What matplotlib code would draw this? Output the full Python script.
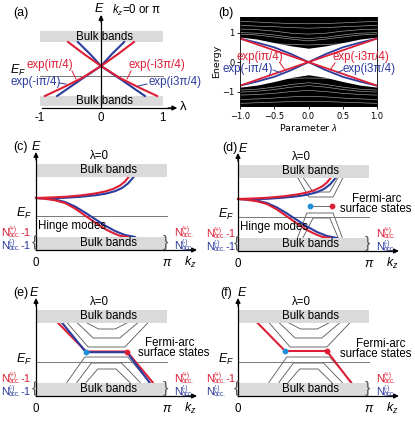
import matplotlib
matplotlib.use('Agg')
import matplotlib.pyplot as plt
from matplotlib.patches import Rectangle
import numpy as np

plt.rcParams['font.family'] = ['Liberation Sans', 'DejaVu Sans']
plt.rcParams['mathtext.fontset'] = 'custom'
plt.rcParams['mathtext.rm'] = 'Liberation Sans'
plt.rcParams['mathtext.it'] = 'Liberation Sans:italic'
plt.rcParams['mathtext.bf'] = 'Liberation Sans:bold'

RED = '#dc1f35'
BLUE = '#2b3c9f'
DOT_BLUE = '#1f8fd8'
FILL = '#dadada'
GLINE = '#555555'

W, H = 415, 443

# ---------------- data ----------------
# panel (a): schematic edge states vs lambda (E in schematic units)
a_lam_ticks = [-1, 0, 1]
a_red1_lam = [-0.54, -0.28, 0.0, 0.31, 0.64, 0.92]
a_red1_E = [6.6, 5.4, 4.2, 3.0, 2.0, 1.2]
a_red2_lam = [0.54, 0.28, 0.0, -0.31, -0.64, -0.92]
a_red2_E = [6.6, 5.4, 4.2, 3.0, 2.0, 1.2]
a_blue1_lam = [-0.38, -0.18, 0.0, 0.34, 0.72]
a_blue1_E = [6.6, 5.4, 4.2, 2.8, 1.2]
a_blue2_lam = [0.38, 0.18, 0.0, -0.34, -0.72]
a_blue2_E = [6.6, 5.4, 4.2, 2.8, 1.2]
a_bulk_top = (6.6, 7.7)
a_bulk_bot = (0.2, 1.2)
a_EF = 3.2

# panel (b): numerical spectrum vs lambda
b_lam = [-1.0, -0.75, -0.5, -0.25, 0.0, 0.25, 0.5, 0.75, 1.0]
b_upper_edge = [0.85, 0.78, 0.66, 0.55, 0.47, 0.55, 0.66, 0.78, 0.85]
b_lower_edge = [-0.85, -0.78, -0.66, -0.52, -0.43, -0.52, -0.66, -0.78, -0.85]
b_upper_streaks = [
    [0.95, 0.92, 0.85, 0.78, 0.72, 0.78, 0.85, 0.92, 0.95],
    [1.00, 0.98, 0.92, 0.84, 0.80, 0.84, 0.92, 0.98, 1.00],
    [1.12, 1.10, 1.05, 0.98, 0.95, 0.98, 1.05, 1.10, 1.12],
    [1.25, 1.22, 1.20, 1.17, 1.15, 1.17, 1.20, 1.22, 1.25],
    [1.38, 1.36, 1.33, 1.31, 1.30, 1.31, 1.33, 1.36, 1.38],
    [0.68, 0.66, 0.62, 0.60, 0.58, 0.60, 0.62, 0.66, 0.68],
]
b_lower_streaks = [
    [-0.95, -0.92, -0.85, -0.76, -0.70, -0.76, -0.85, -0.92, -0.95],
    [-1.02, -0.99, -0.93, -0.85, -0.80, -0.85, -0.93, -0.99, -1.02],
    [-1.12, -1.10, -1.06, -1.00, -0.96, -1.00, -1.06, -1.10, -1.12],
    [-1.27, -1.25, -1.22, -1.18, -1.16, -1.18, -1.22, -1.25, -1.27],
    [-1.40, -1.38, -1.36, -1.34, -1.33, -1.34, -1.36, -1.38, -1.40],
    [-0.62, -0.60, -0.57, -0.55, -0.54, -0.55, -0.57, -0.60, -0.62],
]
b_red1_lam = [-1.0, 1.0]
b_red1_E = [0.80, -0.80]
b_red2_lam = [-1.0, 1.0]
b_red2_E = [-0.80, 0.80]
b_blue_lam = [-1.0, -0.75, -0.5, -0.25, 0.0, 0.25, 0.5, 0.75, 1.0]
b_blue1_E = [0.80, 0.66, 0.50, 0.27, 0.0, -0.27, -0.50, -0.66, -0.80]
b_blue2_E = [-0.80, -0.66, -0.50, -0.27, 0.0, 0.27, 0.50, 0.66, 0.80]
b_xticks = [-1.0, -0.5, 0.0, 0.5, 1.0]
b_yticks = [-1, 0, 1]

# panels (c)-(f): schematic kz spectra (E in schematic units)
bulk_top = (7.35, 8.65)
bulk_bot = (0.0, 1.35)
EF = 3.45
hinge_red_up_kz = [0, 0.336, 0.695, 1.055, 1.415, 1.655, 1.847, 2.014, 2.134, 2.23]
hinge_red_up_E = [5.2, 5.25, 5.32, 5.45, 5.65, 5.85, 6.1, 6.45, 6.85, 7.35]
hinge_blue_up_kz = [0, 0.336, 0.695, 1.055, 1.415, 1.655, 1.894, 2.062, 2.206, 2.35]
hinge_blue_up_E = [5.2, 5.18, 5.22, 5.32, 5.47, 5.62, 5.88, 6.2, 6.65, 7.35]
hinge_red_lo_kz = [0, 0.216, 0.456, 0.695, 0.935, 1.175, 1.415, 1.655, 1.847, 2.014, 2.206]
hinge_red_lo_E = [5.2, 5.12, 4.97, 4.7, 4.15, 3.45, 2.75, 2.1, 1.7, 1.42, 1.3]
hinge_blue_lo_kz = [0, 0.216, 0.456, 0.695, 0.935, 1.175, 1.415, 1.655, 1.894, 2.134, 2.374]
hinge_blue_lo_E = [5.2, 5.15, 5.05, 4.8, 4.35, 3.75, 3.1, 2.45, 1.9, 1.5, 1.3]

# (d) Fermi arc and projected bulk bands
d_arc_kz = [1.73, 2.25]
d_arc_E = [4.5, 4.5]
d_upper_shapes = [
    ([1.43, 1.70, 2.28, 2.52], [7.35, 5.4, 5.4, 7.35]),
    ([1.56, 1.80, 2.2, 2.40], [7.35, 5.9, 5.9, 7.35]),
]
d_lower_shapes = [
    ([1.43, 1.65, 2.28, 2.50], [1.35, 3.8, 3.8, 1.35]),
    ([1.56, 1.80, 2.2, 2.40], [1.35, 3.3, 3.3, 1.35]),
]

# (e)
e_red_kz = [0.52, 1.20, 2.18, 2.80]
e_red_E = [7.35, 4.45, 4.45, 1.35]
e_blue_kz = [0.62, 1.20, 2.18, 2.72]
e_blue_E = [7.35, 4.38, 4.38, 1.35]
e_dot_kz = [1.20, 2.18]
e_dot_E = [4.4, 4.4]
ef_upper_shapes = [
    ([0.74, 1.25, 2.13, 2.69], [7.35, 4.9, 4.9, 7.35]),
    ([0.98, 1.37, 2.01, 2.45], [7.35, 5.8, 5.8, 7.35]),
    ([1.20, 1.50, 1.90, 2.20], [7.35, 6.7, 6.7, 7.35]),
]
ef_lower_shapes = [
    ([0.74, 1.17, 2.2, 2.73], [1.35, 3.9, 3.9, 1.35]),
    ([0.98, 1.33, 2.05, 2.50], [1.35, 3.3, 3.3, 1.35]),
    ([1.20, 1.48, 1.92, 2.25], [1.35, 2.7, 2.7, 1.35]),
]
# (f)
f_red_kz = [0.46, 1.13, 2.13, 2.71]
f_red_E = [7.35, 4.5, 4.5, 1.35]
f_dot_kz = [1.13, 2.13]
f_dot_E = [4.5, 4.5]

# ---------------- figure ----------------
fig = plt.figure(figsize=(W / 100, H / 100), dpi=100)


def make_axes(px_l, px_t, px_r, px_b, x0px, xs, y0px, ys):
    ax = fig.add_axes([px_l / W, 1 - px_b / H, (px_r - px_l) / W, (px_b - px_t) / H])
    ax.set_xlim((px_l - x0px) / xs, (px_r - x0px) / xs)
    ax.set_ylim((y0px - px_b) / ys, (y0px - px_t) / ys)
    ax.axis('off')
    return ax


def ftext(x, y, s, **kw):
    fig.text(x / W, 1 - y / H, s, **kw)


def fline(xs, ys, color):
    fig.add_artist(plt.Line2D([x / W for x in xs], [1 - y / H for y in ys],
                              color=color, lw=0.7, transform=fig.transFigure))


def arrow(ax, p0, p1):
    ax.annotate('', xy=p1, xytext=p0,
                arrowprops=dict(arrowstyle='-|>', lw=0.9, color='k',
                                mutation_scale=7, shrinkA=0, shrinkB=0),
                annotation_clip=False)


def nlabel(x, y, sign, suffix, color):
    ftext(x, y, 'N', ha='left', va='center', fontsize=8, color=color)
    ftext(x + 7.7, y - 3.1, '(%s)' % sign, ha='left', va='center', fontsize=4.7, color=color)
    ftext(x + 7.7, y + 2.7, 'occ.', ha='left', va='center', fontsize=4.7, color=color)
    if suffix:
        ftext(x + 19.0, y, suffix, ha='left', va='center', fontsize=8, color=color)


FS = 8.3

# ---- panel (a)
axa = make_axes(0, 0, 205, 140, 101, 61, 108, 10)
axa.add_patch(Rectangle((-1, a_bulk_top[0]), 2.02, a_bulk_top[1] - a_bulk_top[0], fc=FILL, ec='none'))
axa.add_patch(Rectangle((-1, a_bulk_bot[0]), 2.02, a_bulk_bot[1] - a_bulk_bot[0], fc=FILL, ec='none'))
axa.plot([-1.0, 1.02], [a_EF, a_EF], color='#777777', lw=0.7)
axa.text(0.05, np.mean(a_bulk_top), 'Bulk bands', ha='center', va='center', fontsize=FS)
axa.text(0.05, np.mean(a_bulk_bot), 'Bulk bands', ha='center', va='center', fontsize=FS)
axa.plot(a_blue1_lam, a_blue1_E, color=BLUE, lw=1.5)
axa.plot(a_blue2_lam, a_blue2_E, color=BLUE, lw=1.5)
axa.plot(a_red1_lam, a_red1_E, color=RED, lw=1.5)
axa.plot(a_red2_lam, a_red2_E, color=RED, lw=1.5)
axa.plot([0, 0], [0, 9.2], color='k', lw=0.9)
arrow(axa, (0, 8.6), (0, 9.3))
axa.plot([-0.97, 1.15], [0, 0], color='k', lw=0.9)
arrow(axa, (1.1, 0), (1.25, 0))
for t in a_lam_ticks:
    axa.text(t, -1.0, '%d' % t, ha='center', va='center', fontsize=FS)
ftext(183, 107, 'λ', ha='center', va='center', fontsize=9.5)
ftext(99, 8, '$E$', ha='center', va='center', fontsize=9)
ftext(112, 10, '$k_z$=0 or π', ha='left', va='center', fontsize=FS)
ftext(10, 70, '$E_F$', ha='left', va='center', fontsize=9)
ftext(13, 13, '(a)', ha='left', va='center', fontsize=9)
ftext(50, 65, 'exp(iπ/4)', ha='center', va='center', fontsize=FS, color=RED)
ftext(36, 82, 'exp(-iπ/4)', ha='center', va='center', fontsize=FS, color=BLUE)
ftext(157, 65, 'exp(-i3π/4)', ha='center', va='center', fontsize=FS, color=RED)
ftext(175, 82, 'exp(i3π/4)', ha='center', va='center', fontsize=FS, color=BLUE)
fline([72, 76], [71, 79], RED)
fline([59, 66], [83, 84], BLUE)
fline([131, 127], [71, 79], RED)
fline([147, 138], [84, 86], BLUE)

# ---- panel (b)
axb = fig.add_axes([240 / W, 1 - 106 / H, 137 / W, 89 / H])
axb.set_xlim(-1, 1)
axb.set_ylim(-1.49, 1.53)
axb.fill_between(b_lam, b_upper_edge, 1.6, color='k', lw=0)
axb.fill_between(b_lam, -1.6, b_lower_edge, color='k', lw=0)
for s in b_upper_streaks + b_lower_streaks:
    axb.plot(b_lam, s, color='white', lw=0.45, alpha=0.65)
axb.plot(b_blue_lam, b_blue1_E, color=BLUE, lw=1.3)
axb.plot(b_blue_lam, b_blue2_E, color=BLUE, lw=1.3)
axb.plot(b_red1_lam, b_red1_E, color=RED, lw=1.3)
axb.plot(b_red2_lam, b_red2_E, color=RED, lw=1.3)
axb.set_xticks(b_xticks)
axb.set_yticks(b_yticks)
axb.tick_params(labelsize=6, length=2.5, width=0.6, pad=1.5)
for t in axb.get_xticklabels() + axb.get_yticklabels():
    t.set_fontfamily('DejaVu Sans')
for sp in axb.spines.values():
    sp.set_linewidth(0.6)
axb.set_xlabel('Parameter $\\lambda$', fontsize=6.8, labelpad=1, fontfamily='DejaVu Sans')
axb.set_ylabel('Energy', fontsize=6.8, labelpad=1, fontfamily='DejaVu Sans')
ftext(218, 13, '(b)', ha='left', va='center', fontsize=9)
ftext(260, 57, 'exp(iπ/4)', ha='center', va='center', fontsize=FS, color=RED)
ftext(248, 69, 'exp(-iπ/4)', ha='center', va='center', fontsize=FS, color=BLUE)
ftext(361, 57, 'exp(-i3π/4)', ha='center', va='center', fontsize=FS, color=RED)
ftext(369, 69, 'exp(i3π/4)', ha='center', va='center', fontsize=FS, color=BLUE)
fline([280, 285], [63, 70], RED)
fline([273, 281], [70, 73], BLUE)
fline([335, 330], [63, 70], RED)
fline([343, 337], [70, 73], BLUE)

# ---- panels (c)-(f)
KS = 131 / np.pi


def kz_panel(px_l, px_t, px_r, px_b, x0, y0, label, lab_r, e_l, left_suffix_blue):
    ax = make_axes(px_l, px_t, px_r, px_b, x0, KS, y0, 10)
    ax.add_patch(Rectangle((0, bulk_top[0]), np.pi, bulk_top[1] - bulk_top[0], fc=FILL, ec='none', zorder=3))
    ax.add_patch(Rectangle((0, bulk_bot[0]), np.pi, bulk_bot[1] - bulk_bot[0], fc=FILL, ec='none', zorder=3))
    ax.text(1.75, np.mean(bulk_top), 'Bulk bands', ha='center', va='center', fontsize=FS, zorder=4)
    ax.text(1.75, np.mean(bulk_bot), 'Bulk bands', ha='center', va='center', fontsize=FS, zorder=4)
    ax.plot([0, np.pi], [EF, EF], color='#777777', lw=0.7)
    ax.plot([0, 0], [0, 9.3], color='k', lw=0.9, zorder=5)
    arrow(ax, (0, 9.0), (0, 9.8))
    ax.plot([0, 3.7], [0, 0], color='k', lw=0.9, zorder=5)
    arrow(ax, (3.6, 0), (3.86, 0))
    ax.text(1.53, 9.4, 'λ=0', ha='center', va='center', fontsize=FS)
    ax.text(0, -1.3, '0', ha='center', va='center', fontsize=FS)
    ax.text(np.pi, -1.3, '$\\pi$', ha='center', va='center', fontsize=9)
    ax.text(3.69, -1.25, '$k_z$', ha='center', va='center', fontsize=9)
    ax.text(lab_r, 10.3, label, ha='right', va='center', fontsize=9)
    ax.text(e_l, 10.3, '$E$', ha='left', va='center', fontsize=9)
    ax.text(-0.28, 3.7, '$E_F$', ha='center', va='center', fontsize=9)
    ax.text(-0.03, 0.75, '{', ha='center', va='center', fontsize=11.5, color='#555555', zorder=6)
    ax.text(np.pi - 0.04, 0.75, '}', ha='center', va='center', fontsize=11.5, color='#555555', zorder=6)
    nlabel(px_l + 1, y0 - 17, '+', '-1', RED)
    nlabel(px_l + 1, y0 - 4, '-', left_suffix_blue, BLUE)
    nlabel(x0 + 138, y0 - 17, '+', '', RED)
    nlabel(x0 + 138, y0 - 4, '-', '', BLUE)
    return ax


axc = kz_panel(0, 140, 205, 285, 36, 250, '(c)', -0.19, -0.12, '-1')
axd = kz_panel(205, 140, 415, 285, 238, 251, '(d)', -0.02, 0.0, '-1')
axe = kz_panel(0, 285, 205, 443, 36, 396, '(e)', -0.19, -0.17, '-1')
axf = kz_panel(205, 285, 415, 443, 238, 396, '(f)', -0.14, -0.02, '')

for ax in (axc, axd):
    ax.plot(hinge_blue_up_kz, hinge_blue_up_E, color=BLUE, lw=1.5, zorder=2)
    ax.plot(hinge_blue_lo_kz, hinge_blue_lo_E, color=BLUE, lw=1.5, zorder=2)
    ax.plot(hinge_red_up_kz, hinge_red_up_E, color=RED, lw=1.5, zorder=2)
    ax.plot(hinge_red_lo_kz, hinge_red_lo_E, color=RED, lw=1.5, zorder=2)
    ax.text(0.05, 2.4, 'Hinge modes', ha='left', va='center', fontsize=FS)

for kz, E in d_upper_shapes + d_lower_shapes:
    axd.plot(kz, E, color=GLINE, lw=0.6, zorder=1)
axd.plot(d_arc_kz, d_arc_E, color=GLINE, lw=0.6, zorder=1)
axd.scatter(d_arc_kz[:1], d_arc_E[:1], s=10, color=DOT_BLUE, zorder=4)
axd.scatter(d_arc_kz[1:], d_arc_E[1:], s=10, color=RED, zorder=4)

for ax in (axe, axf):
    for kz, E in ef_upper_shapes + ef_lower_shapes:
        ax.plot(kz, E, color=GLINE, lw=0.6, zorder=1)

axe.plot(e_red_kz, e_red_E, color=RED, lw=1.5, zorder=2)
axe.plot(e_blue_kz, e_blue_E, color=BLUE, lw=1.5, zorder=2)
axe.scatter(e_dot_kz[:1], e_dot_E[:1], s=10, color=DOT_BLUE, zorder=4)
axe.scatter(e_dot_kz[1:], e_dot_E[1:], s=10, color=RED, zorder=4)
axf.plot(f_red_kz, f_red_E, color=RED, lw=1.5, zorder=2)
axf.scatter(f_dot_kz[:1], f_dot_E[:1], s=10, color=DOT_BLUE, zorder=4)
axf.scatter(f_dot_kz[1:], f_dot_E[1:], s=10, color=RED, zorder=4)

ftext(377, 199, 'Fermi-arc', ha='center', va='center', fontsize=FS)
ftext(376, 209, 'surface states', ha='center', va='center', fontsize=FS)
ftext(170, 343, 'Fermi-arc', ha='center', va='center', fontsize=FS)
ftext(174, 353, 'surface states', ha='center', va='center', fontsize=FS)
ftext(381, 344, 'Fermi-arc', ha='center', va='center', fontsize=FS)
ftext(376, 354, 'surface states', ha='center', va='center', fontsize=FS)

fig.savefig('out.png', dpi=100)
